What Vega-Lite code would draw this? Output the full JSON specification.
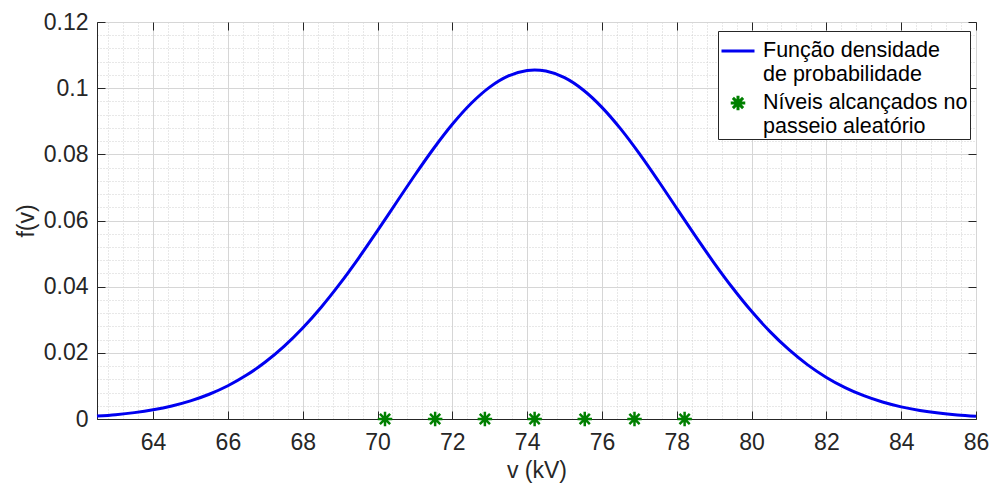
{
  "$schema": "https://vega.github.io/schema/vega-lite/v6.json",
  "width": 879,
  "height": 397,
  "autosize": {"type": "none"},
  "padding": {"left": 97, "top": 22, "right": 16, "bottom": 65},
  "background": "white",
  "config": {
    "view": {"stroke": "#262626", "strokeWidth": 1},
    "font": "Liberation Sans",
    "axis": {
      "labelFont": "Liberation Sans",
      "titleFont": "Liberation Sans",
      "labelFontSize": 23,
      "titleFontSize": 23,
      "labelColor": "#262626",
      "titleColor": "#262626",
      "titleFontWeight": "normal",
      "domainColor": "#262626",
      "tickColor": "#262626",
      "labelOverlap": false,
      "labelFlush": false
    }
  },
  "layer": [
    {
      "data": {"values": [
        {"v": 62.5, "f": 0.000880, "s": "Função densidade de probabilidade"},
        {"v": 63.0, "f": 0.001314, "s": "Função densidade de probabilidade"},
        {"v": 63.5, "f": 0.001927, "s": "Função densidade de probabilidade"},
        {"v": 64.0, "f": 0.002777, "s": "Função densidade de probabilidade"},
        {"v": 64.5, "f": 0.003930, "s": "Função densidade de probabilidade"},
        {"v": 65.0, "f": 0.005471, "s": "Função densidade de probabilidade"},
        {"v": 65.5, "f": 0.007479, "s": "Função densidade de probabilidade"},
        {"v": 66.0, "f": 0.010049, "s": "Função densidade de probabilidade"},
        {"v": 66.5, "f": 0.013270, "s": "Função densidade de probabilidade"},
        {"v": 67.0, "f": 0.017222, "s": "Função densidade de probabilidade"},
        {"v": 67.5, "f": 0.021960, "s": "Função densidade de probabilidade"},
        {"v": 68.0, "f": 0.027512, "s": "Função densidade de probabilidade"},
        {"v": 68.5, "f": 0.033876, "s": "Função densidade de probabilidade"},
        {"v": 69.0, "f": 0.040987, "s": "Função densidade de probabilidade"},
        {"v": 69.5, "f": 0.048730, "s": "Função densidade de probabilidade"},
        {"v": 70.0, "f": 0.056936, "s": "Função densidade de probabilidade"},
        {"v": 70.5, "f": 0.065370, "s": "Função densidade de probabilidade"},
        {"v": 71.0, "f": 0.073750, "s": "Função densidade de probabilidade"},
        {"v": 71.5, "f": 0.081761, "s": "Função densidade de probabilidade"},
        {"v": 72.0, "f": 0.089076, "s": "Função densidade de probabilidade"},
        {"v": 72.5, "f": 0.095360, "s": "Função densidade de probabilidade"},
        {"v": 73.0, "f": 0.100320, "s": "Função densidade de probabilidade"},
        {"v": 73.5, "f": 0.103708, "s": "Função densidade de probabilidade"},
        {"v": 74.0, "f": 0.105352, "s": "Função densidade de probabilidade"},
        {"v": 74.2, "f": 0.105500, "s": "Função densidade de probabilidade"},
        {"v": 74.5, "f": 0.105169, "s": "Função densidade de probabilidade"},
        {"v": 75.0, "f": 0.103165, "s": "Função densidade de probabilidade"},
        {"v": 75.5, "f": 0.099446, "s": "Função densidade de probabilidade"},
        {"v": 76.0, "f": 0.094200, "s": "Função densidade de probabilidade"},
        {"v": 76.5, "f": 0.087684, "s": "Função densidade de probabilidade"},
        {"v": 77.0, "f": 0.080204, "s": "Função densidade de probabilidade"},
        {"v": 77.5, "f": 0.072093, "s": "Função densidade de probabilidade"},
        {"v": 78.0, "f": 0.063677, "s": "Função densidade de probabilidade"},
        {"v": 78.5, "f": 0.055269, "s": "Função densidade de probabilidade"},
        {"v": 79.0, "f": 0.047140, "s": "Função densidade de probabilidade"},
        {"v": 79.5, "f": 0.039512, "s": "Função densidade de probabilidade"},
        {"v": 80.0, "f": 0.032539, "s": "Função densidade de probabilidade"},
        {"v": 80.5, "f": 0.026336, "s": "Função densidade de probabilidade"},
        {"v": 81.0, "f": 0.020945, "s": "Função densidade de probabilidade"},
        {"v": 81.5, "f": 0.016368, "s": "Função densidade de probabilidade"},
        {"v": 82.0, "f": 0.012571, "s": "Função densidade de probabilidade"},
        {"v": 82.5, "f": 0.009487, "s": "Função densidade de probabilidade"},
        {"v": 83.0, "f": 0.007036, "s": "Função densidade de probabilidade"},
        {"v": 83.5, "f": 0.005127, "s": "Função densidade de probabilidade"},
        {"v": 84.0, "f": 0.003672, "s": "Função densidade de probabilidade"},
        {"v": 84.5, "f": 0.002585, "s": "Função densidade de probabilidade"},
        {"v": 85.0, "f": 0.001786, "s": "Função densidade de probabilidade"},
        {"v": 85.5, "f": 0.001214, "s": "Função densidade de probabilidade"},
        {"v": 86.0, "f": 0.000811, "s": "Função densidade de probabilidade"}
      ]},
      "mark": {"type": "line", "strokeWidth": 3, "interpolate": "monotone"},
      "encoding": {
        "x": {
          "field": "v", "type": "quantitative",
          "scale": {"domain": [62.5, 86], "nice": false, "zero": false},
          "axis": {
            "orient": "bottom",
            "title": "v (kV)",
            "titlePadding": 5,
            "values": [62.8,63.2,63.6,64,64.4,64.8,65.2,65.6,66,66.4,66.8,67.2,67.6,68,68.4,68.8,69.2,69.6,70,70.4,70.8,71.2,71.6,72,72.4,72.8,73.2,73.6,74,74.4,74.8,75.2,75.6,76,76.4,76.8,77.2,77.6,78,78.4,78.8,79.2,79.6,80,80.4,80.8,81.2,81.6,82,82.4,82.8,83.2,83.6,84,84.4,84.8,85.2,85.6,86],
            "labelExpr": "abs(datum.value/2 - round(datum.value/2)) < 0.001 ? format(datum.value, 'd') : ''",
            "tickSize": -8,
            "labelPadding": 20,
            "tickOpacity": {"condition": {"test": "abs(datum.value/2 - round(datum.value/2)) < 0.001", "value": 1}, "value": 0},
            "grid": true,
            "gridColor": {"condition": {"test": "abs(datum.value/2 - round(datum.value/2)) < 0.001", "value": "#d6d6d6"}, "value": "#d0d0d0"},
            "gridDash": {"condition": {"test": "abs(datum.value/2 - round(datum.value/2)) < 0.001", "value": []}, "value": [1, 2]}
          }
        },
        "y": {
          "field": "f", "type": "quantitative",
          "scale": {"domain": [0, 0.12], "nice": false},
          "axis": {
            "orient": "left",
            "title": "f(v)",
            "titlePadding": 5,
            "values": [0,0.004,0.008,0.012,0.016,0.02,0.024,0.028,0.032,0.036,0.04,0.044,0.048,0.052,0.056,0.06,0.064,0.068,0.072,0.076,0.08,0.084,0.088,0.092,0.096,0.1,0.104,0.108,0.112,0.116,0.12],
            "labelExpr": "abs(datum.value/0.02 - round(datum.value/0.02)) < 0.001 ? format(datum.value, '.2~f') : ''",
            "tickSize": -8,
            "labelPadding": 17,
            "tickOpacity": {"condition": {"test": "abs(datum.value/0.02 - round(datum.value/0.02)) < 0.001", "value": 1}, "value": 0},
            "grid": true,
            "gridColor": {"condition": {"test": "abs(datum.value/0.02 - round(datum.value/0.02)) < 0.001", "value": "#d6d6d6"}, "value": "#d0d0d0"},
            "gridDash": {"condition": {"test": "abs(datum.value/0.02 - round(datum.value/0.02)) < 0.001", "value": []}, "value": [1, 2]}
          }
        },
        "color": {
          "field": "s", "type": "nominal",
          "scale": {"domain": ["Função densidade de probabilidade", "Níveis alcançados no passeio aleatório"], "range": ["#0000f0", "#008000"]},
          "legend": {
            "title": null,
            "orient": "none",
            "legendX": 621,
            "legendY": 9,
            "fillColor": "white",
            "strokeColor": "#262626",
            "padding": 2,
            "symbolSize": 1089,
            "symbolStrokeWidth": 3,
            "labelFont": "Liberation Sans",
            "labelFontSize": 21.5,
            "labelColor": "#000000",
            "labelLimit": 400,
            "labelOffset": 7,
            "rowPadding": 0,
            "labelExpr": "datum.value == 'Função densidade de probabilidade' ? ['Função densidade', '\u2005de probabilidade'] : ['Níveis alcançados no', '\u2005passeio aleatório']"
          }
        }
      }
    },
    {
      "data": {"values": [
        {"v": 70.20, "f": 0, "s": "Níveis alcançados no passeio aleatório"},
        {"v": 71.54, "f": 0, "s": "Níveis alcançados no passeio aleatório"},
        {"v": 72.87, "f": 0, "s": "Níveis alcançados no passeio aleatório"},
        {"v": 74.20, "f": 0, "s": "Níveis alcançados no passeio aleatório"},
        {"v": 75.54, "f": 0, "s": "Níveis alcançados no passeio aleatório"},
        {"v": 76.87, "f": 0, "s": "Níveis alcançados no passeio aleatório"},
        {"v": 78.21, "f": 0, "s": "Níveis alcançados no passeio aleatório"}
      ]},
      "mark": {"type": "point", "filled": false, "strokeWidth": 2.5, "size": 1089, "opacity": 1},
      "encoding": {
        "x": {
          "field": "v", "type": "quantitative",
          "axis": {"orient": "top", "title": null, "labels": false, "domain": false, "grid": false, "tickSize": -8,
            "values": [64,66,68,70,72,74,76,78,80,82,84,86]}
        },
        "y": {
          "field": "f", "type": "quantitative",
          "axis": {"orient": "right", "title": null, "labels": false, "domain": false, "grid": false, "tickSize": -8,
            "values": [0,0.02,0.04,0.06,0.08,0.1,0.12]}
        },
        "color": {"field": "s", "type": "nominal"},
        "shape": {
          "field": "s", "type": "nominal",
          "scale": {"domain": ["Função densidade de probabilidade", "Níveis alcançados no passeio aleatório"],
                    "range": ["M-1,0L1,0", "M0,-0.44L0,0.44M-0.44,0L0.44,0M-0.31,-0.31L0.31,0.31M-0.31,0.31L0.31,-0.31"]},
          "legend": {
            "title": null,
            "orient": "none",
            "legendX": 621,
            "legendY": 9,
            "fillColor": "white",
            "strokeColor": "#262626",
            "padding": 2,
            "symbolSize": 1089,
            "symbolStrokeWidth": 3,
            "labelFont": "Liberation Sans",
            "labelFontSize": 21.5,
            "labelColor": "#000000",
            "labelLimit": 400,
            "labelOffset": 7,
            "rowPadding": 0,
            "labelExpr": "datum.value == 'Função densidade de probabilidade' ? ['Função densidade', '\u2005de probabilidade'] : ['Níveis alcançados no', '\u2005passeio aleatório']"
          }
        }
      }
    }
  ],
  "resolve": {"axis": {"x": "independent", "y": "independent"}}
}
